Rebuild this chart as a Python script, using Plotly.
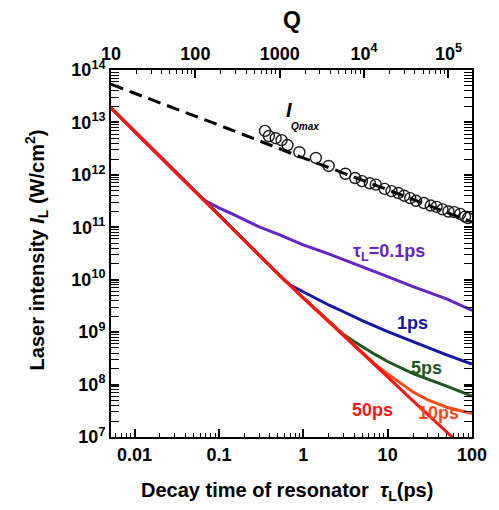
import plotly.graph_objects as go

# ---------------- data ----------------
tau_red = [0.00526, 0.01, 0.02, 0.05, 0.1, 0.2, 0.5, 1, 2, 5, 10, 20, 50, 70]
I_red = [1.9e13, 6.8e12, 2.2e12, 5.3e11, 1.7e11, 5.6e10, 1.3e10, 4.5e9, 1.6e9, 4.0e8, 1.4e8, 4.9e7, 1.26e7, 7.6e6]

tau_purple = [0.00526, 0.01, 0.02, 0.05, 0.06, 0.07, 0.08, 0.1, 0.15, 0.2, 0.3, 0.5, 0.7, 1, 2, 5, 10, 20, 50, 100]
I_purple = [1.9e13, 6.8e12, 2.2e12, 5.3e11, 3.9e11, 3.16e11, 2.82e11, 2.34e11, 1.74e11, 1.38e11, 1.02e11,
            7.4e10, 5.9e10, 4.6e10, 3.1e10, 1.78e10, 1.15e10, 7.4e9, 4.3e9, 2.6e9]

tau_blue = [0.00526, 0.01, 0.02, 0.05, 0.1, 0.2, 0.5, 0.6, 0.7, 0.85, 1, 1.5, 2, 3, 5, 10, 20, 50, 100]
I_blue = [1.9e13, 6.8e12, 2.2e12, 5.3e11, 1.7e11, 5.6e10, 1.3e10, 9.8e9, 7.9e9, 6.7e9, 5.75e9, 4.17e9,
          3.3e9, 2.45e9, 1.66e9, 1.02e9, 6.5e8, 3.7e8, 2.45e8]

tau_green = [0.00526, 0.01, 0.02, 0.05, 0.1, 0.2, 0.5, 1, 2, 2.5, 3, 4, 5, 7, 10, 20, 50, 100]
I_green = [1.9e13, 6.8e12, 2.2e12, 5.3e11, 1.7e11, 5.6e10, 1.3e10, 4.5e9, 1.6e9, 1.15e9, 9.06e8, 6.6e8,
           5.25e8, 3.8e8, 2.75e8, 1.62e8, 9.3e7, 6.0e7]

tau_orange = [0.00526, 0.01, 0.02, 0.05, 0.1, 0.2, 0.5, 1, 2, 5, 6, 7, 10, 15, 20, 30, 50, 100]
I_orange = [1.9e13, 6.8e12, 2.2e12, 5.3e11, 1.7e11, 5.6e10, 1.3e10, 4.5e9, 1.6e9, 4.0e8, 3.1e8, 2.5e8,
            1.6e8, 9.8e7, 7.2e7, 5.1e7, 3.7e7, 2.8e7]

tau_qmax = [0.00526, 0.01, 0.1, 1, 10, 100]
I_qmax = [5.4e13, 3.6e13, 8.9e12, 2.1e12, 5.2e11, 1.26e11]

tau_circ = [0.352, 0.391, 0.471, 0.553, 0.650, 0.898, 1.41, 2.0, 3.16, 4.12, 4.97, 6.16, 7.24, 9.21,
            11.1, 13.4, 15.7, 18.5, 21.7, 26.9, 32.4, 38.0, 44.7, 52.5, 61.7, 72.4, 82.8, 89.7]
I_circ = [6.9e12, 5.5e12, 5.0e12, 4.6e12, 3.7e12, 2.7e12, 2.1e12, 1.48e12, 1.05e12, 8.7e11, 7.6e11,
          6.9e11, 6.5e11, 5.4e11, 4.9e11, 4.5e11, 4.0e11, 3.6e11, 3.2e11, 2.9e11, 2.6e11, 2.45e11,
          2.2e11, 2.0e11, 1.95e11, 1.8e11, 1.6e11, 1.5e11]

x_ticks = [0.01, 0.1, 1, 10, 100]
x_ticktext = ["0.01", "0.1", "1", "10", "100"]
y_ticks = [1e7, 1e8, 1e9, 1e10, 1e11, 1e12, 1e13, 1e14]
y_ticktext = ["10<sup>7</sup>", "10<sup>8</sup>", "10<sup>9</sup>", "10<sup>10</sup>", "10<sup>11</sup>",
              "10<sup>12</sup>", "10<sup>13</sup>", "10<sup>14</sup>"]
q_ticks = [10, 100, 1000, 1e4, 1e5]
q_ticktext = ["10", "100", "1000", "10<sup>4</sup>", "10<sup>5</sup>"]

# ---------------- figure ----------------
FONT = "Liberation Sans, Arial, Helvetica, sans-serif"
fig = go.Figure()

fig.add_trace(go.Scatter(x=tau_circ, y=I_circ, mode="markers",
                         marker=dict(symbol="circle-open", size=11, color="#1a1a1a",
                                     line=dict(width=1.4, color="#1a1a1a"))))
fig.add_trace(go.Scatter(x=tau_qmax, y=I_qmax, mode="lines",
                         line=dict(color="black", width=3, dash="13px,7px")))

series = [
    (tau_purple, I_purple, "#6424c8"),
    (tau_blue, I_blue, "#1414a8"),
    (tau_green, I_green, "#1f561f"),
    (tau_orange, I_orange, "#ff4a1e"),
    (tau_red, I_red, "#ff1414"),
]
for tx, iy, col in series:
    fig.add_trace(go.Scatter(x=tx, y=iy, mode="lines", line=dict(color=col, width=3)))

# invisible trace to activate the top Q axis
fig.add_trace(go.Scatter(x=[100], y=[1e10], xaxis="x2", yaxis="y", mode="markers",
                         marker=dict(opacity=0), hoverinfo="skip"))

def minor_vals(lo, hi):
    vals = []
    for e in range(lo, hi + 1):
        for m in range(2, 10):
            vals.append(m * 10.0 ** e)
    return vals

tickfont = dict(family=FONT, size=18, color="black", weight="bold")
common = dict(showgrid=False, zeroline=False, showline=True, linecolor="black", linewidth=2,
              ticks="inside", ticklen=8, tickwidth=1.5, tickcolor="black", tickfont=tickfont)

fig.update_layout(
    width=499, height=510,
    margin=dict(l=111, r=20, t=70, b=73),
    paper_bgcolor="white", plot_bgcolor="white",
    showlegend=False,
    xaxis=dict(type="log", range=[-2.279, 2], tickmode="array", tickvals=x_ticks, ticktext=x_ticktext,
               minor=dict(tickmode="array", tickvals=minor_vals(-3, 1), ticks="inside", ticklen=4,
                          tickwidth=1, tickcolor="black"),
               **common),
    xaxis2=dict(type="log", range=[1, 5.279], overlaying="x", side="top", anchor="y",
                tickmode="array", tickvals=q_ticks, ticktext=q_ticktext, ticklabelstandoff=1,
                minor=dict(tickmode="array", tickvals=minor_vals(0, 5), ticks="inside", ticklen=4,
                           tickwidth=1, tickcolor="black"),
                **common),
    yaxis=dict(type="log", range=[7, 14], tickmode="array", tickvals=y_ticks, ticktext=y_ticktext,
               mirror="allticks",
               minor=dict(tickmode="array", tickvals=minor_vals(7, 13), ticks="inside", ticklen=4,
                          tickwidth=1, tickcolor="black"),
               **common),
)

def ann(px, py, text, size=18, color="black", **kw):
    fig.add_annotation(x=(px - 111) / 368, y=(437 - py) / 367, xref="paper", yref="paper",
                       text=text, showarrow=False, xanchor="center", yanchor="middle",
                       font=dict(family=FONT, size=size, color=color, weight="bold"), **kw)

ann(394, 252, "τ<sub>L</sub>=0.1ps", color="#6424c8")
ann(418, 323, "1ps", color="#1414a8")
ann(433, 368, "5ps", color="#1f561f")
ann(445, 413, "10ps", color="#ff4a1e")
ann(378, 410, "50ps", color="#ff1414")
ann(292, 110, "<i>I</i>", size=20)
ann(309, 127, "<i>Qmax</i>", size=10)

ann(295, 20, "Q", size=23)
ann(290, 492, "Decay time of resonator  <i>τ</i><sub>L</sub>(ps)", size=20)
ann(35, 250, "Laser intensity <i>I</i><sub>L</sub> (W/cm<sup>2</sup>)", size=20, textangle=-90)

fig.write_html("out.html", config={"displayModeBar": False},
               post_script="document.body.style.margin='0px';")
